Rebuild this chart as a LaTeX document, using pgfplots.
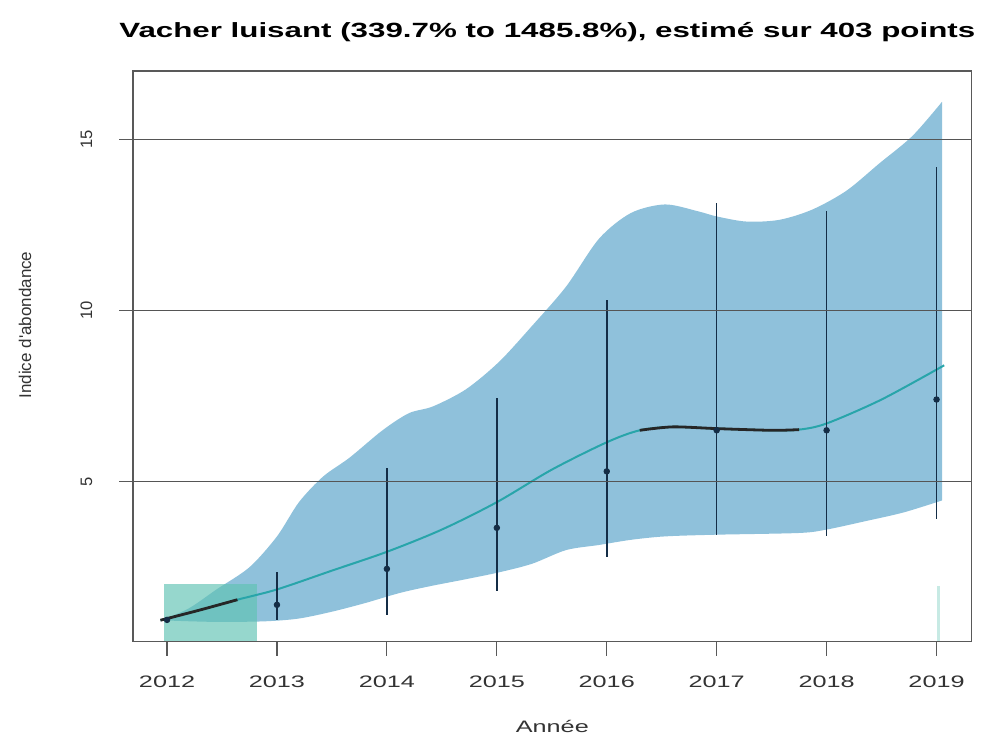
\documentclass[border=0pt]{standalone}
\usepackage{pgfplots}
\pgfplotsset{compat=1.18}
\usepgfplotslibrary{fillbetween}
\usepackage{fontspec}
\setmainfont{Liberation Sans}[FakeStretch=1.52]
\newfontfamily\vfont{Liberation Sans}
\definecolor{band}{RGB}{115,178,210}
\definecolor{aqua}{RGB}{94,194,178}
\definecolor{trend}{RGB}{40,165,170}
\definecolor{navy}{RGB}{20,45,70}
\definecolor{gridc}{RGB}{85,85,85}

\begin{document}
\begin{tikzpicture}
\begin{axis}[
    scale only axis,
    width=419.5pt, height=285.5pt,
    xmin=2011.69, xmax=2019.32,
    ymin=0.32, ymax=17.0,
    xtick={2012,2013,2014,2015,2016,2017,2018,2019},
    xticklabels={2012,2013,2014,2015,2016,2017,2018,2019},
    ytick={5,10,15},
    yticklabels={5,10,15},
    tick pos=left,
    tick align=outside,
    major tick length=7pt,
    tick style={gray!70!black, line width=0.6pt},
    axis line style={gray!70!black, line width=0.6pt},
    ymajorgrids,
    grid style={gridc, line width=0.6pt},
    axis on top,
    /pgf/number format/assume math mode=true,
    xticklabel style={font=\fontsize{8.3}{10}\selectfont, text=black!80, anchor=base, yshift=-16pt},
    yticklabel style={font=\vfont\fontsize{8.3}{10}\selectfont, text=black!80, xshift=-13.5pt, rotate=90, anchor=base},
    title={Vacher luisant (339.7\% to 1485.8\%), estimé sur 403 points},
    title style={font=\bfseries\fontsize{10.3}{12}\selectfont, at={(axis description cs:0.5,1)}, anchor=base, yshift=10.5pt, xshift=-2.5pt},
    xlabel={Année},
    xlabel style={font=\fontsize{8.3}{10}\selectfont, text=black!80, at={(axis description cs:0.5,0)}, anchor=base, yshift=-45.5pt},
    ylabel={\vfont Indice d'abondance},
    ylabel style={font=\fontsize{8.5}{10}\selectfont, text=black!80, at={([xshift=-54pt]axis description cs:0,0.555)}, anchor=center},
]
% confidence band
\addplot[name path=up, draw=none, smooth, tension=0.5] coordinates {
(2011.95,0.95) (2012.2,1.3) (2012.45,1.85) (2012.75,2.5) (2013.0,3.4) (2013.2,4.4)
(2013.42,5.15) (2013.66,5.7) (2013.96,6.5) (2014.2,7.0) (2014.42,7.2) (2014.72,7.7)
(2015.02,8.5) (2015.32,9.55) (2015.63,10.7) (2015.93,12.1) (2016.22,12.85) (2016.53,13.1)
(2016.83,12.9) (2017.0,12.75) (2017.27,12.6) (2017.57,12.65) (2017.87,12.95) (2018.18,13.5)
(2018.48,14.3) (2018.78,15.1) (2019.05,16.1)};
\addplot[name path=lo, draw=none, smooth, tension=0.5] coordinates {
(2011.95,0.95) (2012.2,0.92) (2012.5,0.9) (2012.9,0.92) (2013.2,1.0) (2013.5,1.2)
(2013.8,1.45) (2014.12,1.75) (2014.4,1.95) (2014.72,2.15) (2015.02,2.35) (2015.32,2.6)
(2015.63,3.0) (2015.93,3.15) (2016.22,3.3) (2016.53,3.4) (2017.0,3.45) (2017.75,3.5)
(2018.0,3.6) (2018.36,3.85) (2018.7,4.1) (2019.05,4.45)};
\addplot[band, fill opacity=0.8, draw=none] fill between[of=up and lo];

% zones (rectangles)
\addplot[fill=aqua, fill opacity=0.65, draw=none] coordinates {(2011.97,0) (2011.97,2.0) (2012.82,2.0) (2012.82,0)} -- cycle;
\addplot[fill=aqua, fill opacity=0.35, draw=none] coordinates {(2019.0,0) (2019.0,1.95) (2019.03,1.95) (2019.03,0)} -- cycle;

% trend
\addplot[trend, line width=1pt, smooth, no marks] coordinates {
(2011.94,0.95) (2012.3,1.25) (2012.64,1.55) (2013,1.85) (2013.5,2.4) (2014,2.95)
(2014.5,3.6) (2015,4.4) (2015.5,5.35) (2016,6.15) (2016.3,6.5) (2016.6,6.6)
(2017,6.55) (2017.5,6.5) (2017.75,6.52) (2018,6.7) (2018.5,7.4) (2019.07,8.4)};
\addplot[black!85, line width=1.4pt, smooth, no marks] coordinates {
(2011.94,0.95) (2012.3,1.25) (2012.64,1.55)};
\addplot[black!85, line width=1.4pt, smooth, no marks] coordinates {
(2016.3,6.5) (2016.6,6.6) (2017,6.55) (2017.5,6.5) (2017.75,6.52)};

% yearly estimates
\addplot[navy, only marks, mark=*, mark size=1.4pt,
    error bars/.cd, y dir=both, y explicit, error mark=none,
    error bar style={navy, line width=0.8pt}] coordinates {
(2012,0.96) += (0,0) -= (0,0)
(2013,1.4) += (0,0.95) -= (0,0.45)
(2014,2.45) += (0,2.95) -= (0,1.35)
(2015,3.65) += (0,3.8) -= (0,1.85)
(2016,5.3) += (0,5.0) -= (0,2.5)
(2017,6.5) += (0,6.65) -= (0,3.05)
(2018,6.5) += (0,6.4) -= (0,3.1)
(2019,7.4) += (0,6.8) -= (0,3.5)};
\end{axis}
\path (current axis.south west) ++(-66.5pt,-47.5pt) rectangle ([xshift=5pt,yshift=35.5pt]current axis.north east);
\end{tikzpicture}
\end{document}
